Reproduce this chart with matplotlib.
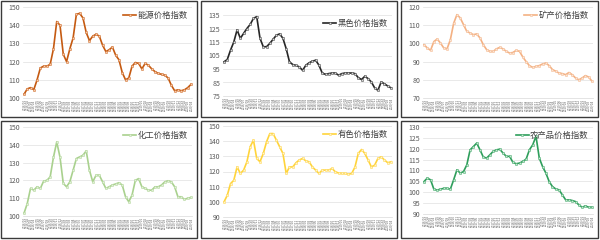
import matplotlib
matplotlib.use("Agg")
import matplotlib.pyplot as plt
from matplotlib.patches import Rectangle
import pandas as pd

plt.rcParams['font.family'] = ['Noto Sans CJK SC', 'DejaVu Sans']

months = pd.date_range("2016-01", periods=52, freq="MS").strftime("%Y/%m").tolist()

energy = [102, 105, 105.7, 104.6, 110, 116.5, 117.5, 117.5, 118.5, 127,
          142, 140, 124, 120, 127, 133, 146, 146.5, 144, 136,
          131.5, 134, 135, 134, 129, 125.5, 126.5, 128, 123.5, 121,
          114, 110, 111, 117.5, 119.5, 119, 116, 119, 118, 116,
          114.5, 113.5, 113, 112.5, 111, 107, 104, 104.5, 104, 104.5,
          105.7, 107.5]
ferrous = [100.3, 102, 109, 115, 124, 117.7, 121.4, 125, 128, 132.5,
           133.8, 117.7, 111.5, 111.5, 114, 117, 120, 121, 117.7, 110,
           100.3, 98.3, 97.6, 96.6, 94, 97.8, 99.6, 100.8, 101.5, 97.8,
           92, 91, 91.6, 92, 92, 90.4, 91.6, 92, 92, 92,
           91.6, 88.6, 87.2, 89.6, 87.9, 85.4, 81, 79.2, 85.4, 84,
           82.4, 81]
mineral = [99.3, 97.5, 96.2, 101, 102.4, 100.2, 97.5, 97, 102, 111,
           115.8, 114, 110.3, 106.6, 105.7, 104.8, 105.2, 103, 99.3, 96.6,
           95.6, 95.6, 97, 97.8, 97, 95.6, 94.7, 95, 96.2, 95.6,
           92.5, 90, 87.8, 86.8, 87.4, 87.8, 88.7, 89.2, 87.8, 85.6,
           84.7, 83.7, 83.4, 82.8, 84, 82.8, 81, 80, 81, 82.3,
           81.5, 79.2]
chemical = [101.5, 107, 115.5, 114.5, 116.4, 115.5, 119.6, 120, 122, 133,
            141.6, 133, 118.3, 116.4, 119.2, 125.7, 132.3, 133.2, 134.1, 136.6,
            125.7, 119.2, 122.9, 122.9, 119.2, 115.5, 116.4, 117.4, 118, 118.7,
            117.4, 110.8, 108, 111.8, 120, 121, 116.4, 115.5, 114.5, 114.5,
            116.4, 116.4, 117.4, 119.2, 119.8, 119.2, 116.4, 110.8, 110.8, 109.3,
            110, 110.4]
nonferrous = [99.9, 104.3, 112, 114.2, 123, 118.7, 120.9, 126.4, 136.3, 140.7,
              128.6, 126.4, 131.9, 139.6, 145, 145, 140.7, 136.3, 131.9, 118.7,
              123, 123, 125.8, 127.6, 128.6, 127, 126.4, 123, 120.9, 118.7,
              120.9, 120.9, 120.9, 122, 119.8, 119, 118.7, 118.7, 118.2, 118.7,
              123, 131.9, 134.5, 131.9, 127.6, 123, 124.2, 128.6, 129.7, 127.6,
              125.8, 126.4]
agri = [104.9, 106.5, 105.7, 101.4, 101, 101.4, 101.8, 101.8, 101.4, 105.7,
        110.3, 108.8, 109.5, 112.6, 119.5, 121, 122.6, 119.5, 116.2, 115.7,
        117.2, 118.8, 119.5, 119.8, 118, 116.5, 116.5, 113.7, 113.1, 113.4,
        114.2, 115.2, 119.5, 121.8, 125.7, 115.7, 111.8, 108.8, 104.9, 102.6,
        101.5, 101.1, 98.8, 96.5, 96.5, 96.2, 95.7, 94.2, 93.1, 93.7,
        93.1, 93.1]

names = ["能源价格指数", "黑色价格指数", "矿产价格指数",
         "化工价格指数", "有色价格指数", "农产品价格指数"]
series = [energy, ferrous, mineral, chemical, nonferrous, agri]
colors = ["#C55A11", "#262626", "#F4B183", "#A9D18E", "#FFD43B", "#2E9E5B"]
mfcs = ["#F8CBAD", "#D9D9D9", "#FBE5D6", "#E2F0D9", "#FFF2CC", "#C5E8D0"]
yticks = [range(100, 151, 10), range(75, 136, 10), range(70, 121, 10),
          range(100, 151, 10), range(90, 151, 10), range(90, 131, 5)]

W, H = 600, 240
fig = plt.figure(figsize=(6, 2.4), dpi=100)
fig.patch.set_facecolor("white")

# panel boxes (px): x0, y0, x1, y1 ; plot area top/bottom (px from top)
panels = [(1, 1, 197, 117), (201, 1, 397, 117), (401, 1, 598, 117),
          (1, 121, 197, 238), (201, 121, 397, 238), (401, 121, 598, 238)]
plot_tb = [(7, 98), (15, 96), (7, 98), (127, 216), (126, 217), (127, 214)]

for k in range(6):
    x0, y0, x1, y1 = panels[k]
    fig.patches.append(Rectangle((x0 / W, 1 - y1 / H), (x1 - x0) / W, (y1 - y0) / H,
                                 transform=fig.transFigure, fill=False,
                                 edgecolor="#3a3a3a", linewidth=1.0))
    top, bot = plot_tb[k]
    ax = fig.add_axes([(x0 + 22) / W, 1 - bot / H, (x1 - x0 - 27) / W, (bot - top) / H])
    n = len(series[k])
    ax.plot(range(n), series[k], color=colors[k], linewidth=1.2, marker="o",
            markersize=1.8, markerfacecolor=mfcs[k], markeredgecolor=colors[k],
            markeredgewidth=0.3, label=names[k])
    yt = list(yticks[k])
    ax.set_ylim(yt[0], yt[-1])
    ax.set_yticks(yt)
    ax.set_xlim(-0.3, n - 0.7)
    ax.set_xticks(range(n))
    ax.set_xticklabels(months[:n], rotation=90, fontsize=2.2, color="#595959")
    ax.tick_params(axis="y", labelsize=5, colors="#595959", length=0, pad=2)
    ax.tick_params(axis="x", length=0, pad=1)
    ax.grid(axis="y", color="#E0E0E0", linewidth=0.5)
    ax.set_axisbelow(True)
    for s in ["top", "right", "left"]:
        ax.spines[s].set_visible(False)
    ax.spines["bottom"].set_color("#D9D9D9")
    ax.spines["bottom"].set_linewidth(0.5)
    ax.legend(loc="upper right", fontsize=6, frameon=False, handlelength=1.5,
              handletextpad=0.2, borderaxespad=0.1, labelcolor="#404040")

fig.savefig("out.png", dpi=100)
